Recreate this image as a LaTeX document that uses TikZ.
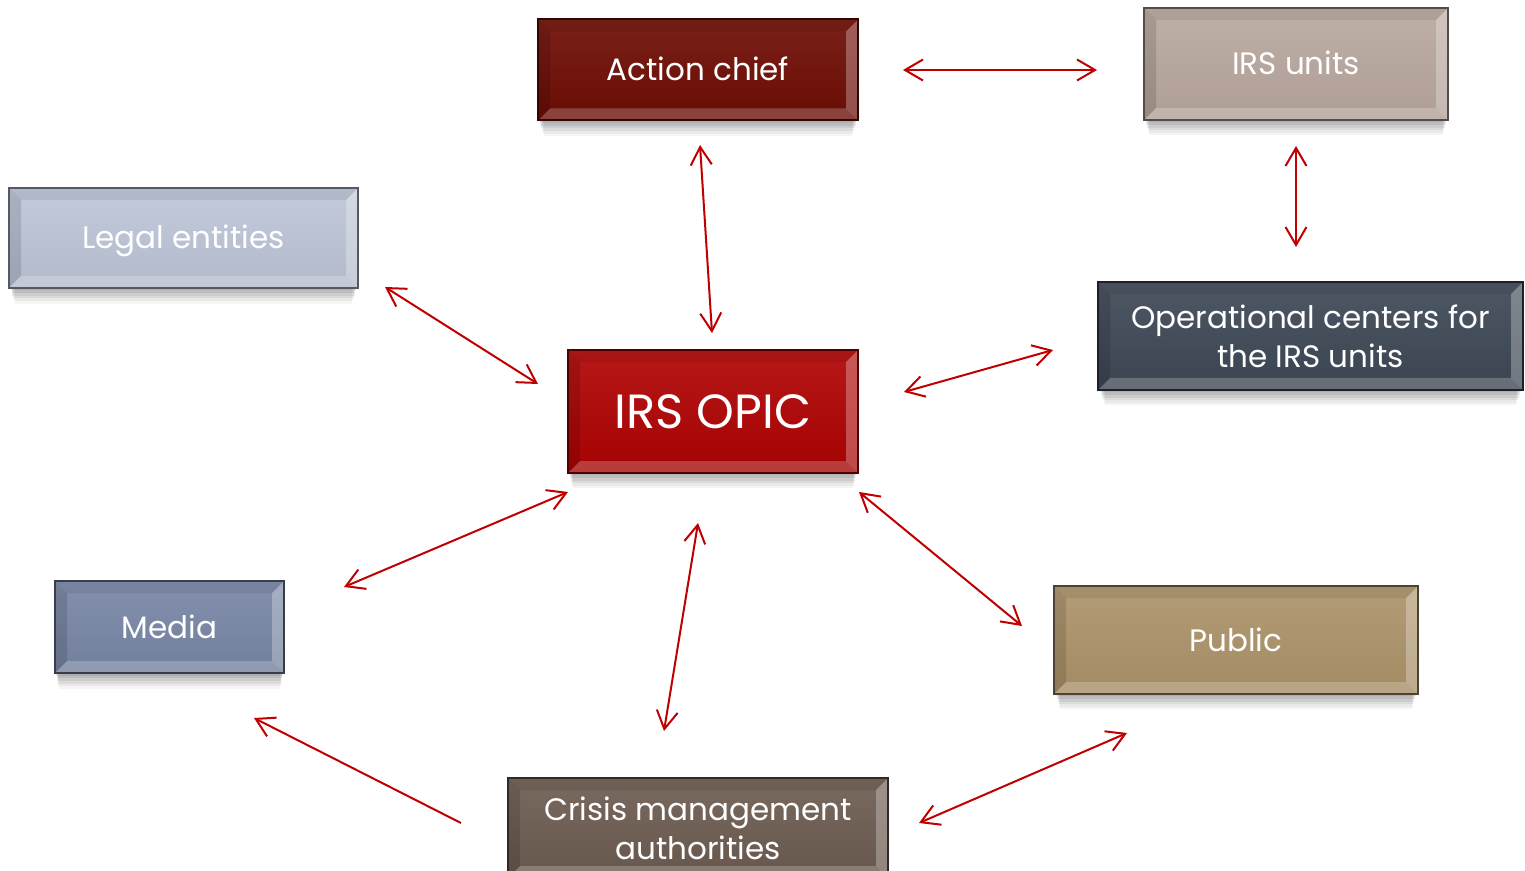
\documentclass[tikz,border=0pt]{standalone}
\usepackage{fontspec}
\setmainfont{Poppins}
\usetikzlibrary{arrows.meta,shadows,calc}
\definecolor{arrowred}{HTML}{C00000}
\definecolor{cAction}{HTML}{6F0D04}
\definecolor{cUnits}{HTML}{B9A89F}
\definecolor{cLegal}{HTML}{BDC6D8}
\definecolor{cOper}{HTML}{3E4956}
\definecolor{cOpic}{HTML}{B00303}
\definecolor{cMedia}{HTML}{7887A6}
\definecolor{cPublic}{HTML}{AD946A}
\definecolor{cCrisis}{HTML}{6D5C51}
\begin{document}
\begin{tikzpicture}[x=0.5pt,y=-0.5pt,
  conn/.style={arrowred, line width=1pt,
    {Straight Barb[length=9pt,width=10.5pt]}-{Straight Barb[length=9pt,width=10.5pt]}},
  oneway/.style={arrowred, line width=1pt, -{Straight Barb[length=9pt,width=10.5pt]}},
  boxtext/.style={font=\fontsize{15.5}{19.5}\selectfont},
  oneline/.style={text height=11pt, text depth=0pt},
  bx/.style={rectangle, inner sep=0pt, align=center, text=white, boxtext,
    fill=#1, draw=#1!45!black, line width=1pt,
    drop shadow={shadow xshift=0pt, shadow yshift=-1.5pt, shadow scale=0.99, opacity=0.07, fill=black},
    drop shadow={shadow xshift=0pt, shadow yshift=-3pt, shadow scale=0.985, opacity=0.07, fill=black},
    drop shadow={shadow xshift=0pt, shadow yshift=-4.5pt, shadow scale=0.98, opacity=0.07, fill=black},
    drop shadow={shadow xshift=0pt, shadow yshift=-6pt, shadow scale=0.975, opacity=0.06, fill=black},
    drop shadow={shadow xshift=0pt, shadow yshift=-7.5pt, shadow scale=0.97, opacity=0.05, fill=black},
    drop shadow={shadow xshift=0pt, shadow yshift=-9pt, shadow scale=0.965, opacity=0.04, fill=black},
    path picture={
      \coordinate (SW) at (path picture bounding box.south west);
      \coordinate (NE) at (path picture bounding box.north east);
      \coordinate (NW) at (SW|-NE);
      \coordinate (SE) at (NE|-SW);
      \shade[top color=#1!92!white, middle color=#1, bottom color=#1!94!black] (SW) rectangle (NE);
      \fill[black,opacity=0.08] (NW) -- (NE) -- ($(NE)+(-6pt,-6pt)$) -- ($(NW)+(6pt,-6pt)$) -- cycle;
      \fill[black,opacity=0.12] (NW) -- (SW) -- ($(SW)+(6pt,6pt)$) -- ($(NW)+(6pt,-6pt)$) -- cycle;
      \fill[white,opacity=0.22] (SW) -- (SE) -- ($(SE)+(-6pt,6pt)$) -- ($(SW)+(6pt,6pt)$) -- cycle;
      \fill[white,opacity=0.28] (SE) -- (NE) -- ($(NE)+(-6pt,-6pt)$) -- ($(SE)+(-6pt,6pt)$) -- cycle;
    }}
]
\useasboundingbox (0,0) rectangle (1525,871);

\node[bx=cAction, oneline, minimum width=160pt, minimum height=50.5pt] (action) at (698,70) {Action chief};
\node[bx=cUnits, oneline, minimum width=152pt, minimum height=56pt] (units) at (1296,64) {IRS units};
\node[bx=cLegal, oneline, minimum width=174.5pt, minimum height=50pt] (legal) at (183.5,238) {Legal entities};
\node[bx=cOper, minimum width=212.5pt, minimum height=54pt] (oper) at (1310.5,336) {Operational centers for\\the IRS units};
\node[bx=cOpic, minimum width=145pt, minimum height=61.5pt, font=\fontsize{24}{28}\selectfont, text height=17pt, text depth=0pt] (opic) at (713,411.5) {IRS OPIC};
\node[bx=cMedia, oneline, minimum width=114.5pt, minimum height=46pt] (media) at (169.5,627) {Media};
\node[bx=cPublic, oneline, minimum width=182pt, minimum height=54pt] (public) at (1236,640) {Public};
\node[bx=cCrisis, minimum width=190pt, minimum height=50pt, text depth=0pt] (crisis) at (698,828) {Crisis management\\authorities};

\coordinate (ac1) at (903,70);   \coordinate (iu1) at (1097,70);
\coordinate (ac2) at (700,145);  \coordinate (op1) at (712,333);
\coordinate (iu2) at (1296,146); \coordinate (oc1) at (1296,247);
\coordinate (le1) at (385,287);  \coordinate (op2) at (538,384);
\coordinate (op3) at (904,392);  \coordinate (oc2) at (1053,350);
\coordinate (op4) at (568,492);  \coordinate (me1) at (344,587);
\coordinate (op5) at (698,523);  \coordinate (cr1) at (664,731);
\coordinate (op6) at (859,492);  \coordinate (pu1) at (1022,626);
\coordinate (cr2) at (461,823);  \coordinate (me2) at (254,718);
\coordinate (cr3) at (919,823);  \coordinate (pu2) at (1127,733);

\draw[conn] (ac1) -- (iu1);
\draw[conn] (ac2) -- (op1);
\draw[conn] (iu2) -- (oc1);
\draw[conn] (le1) -- (op2);
\draw[conn] (op3) -- (oc2);
\draw[conn] (op4) -- (me1);
\draw[conn] (op5) -- (cr1);
\draw[conn] (op6) -- (pu1);
\draw[oneway] (cr2) -- (me2);
\draw[conn] (cr3) -- (pu2);
\end{tikzpicture}
\end{document}
